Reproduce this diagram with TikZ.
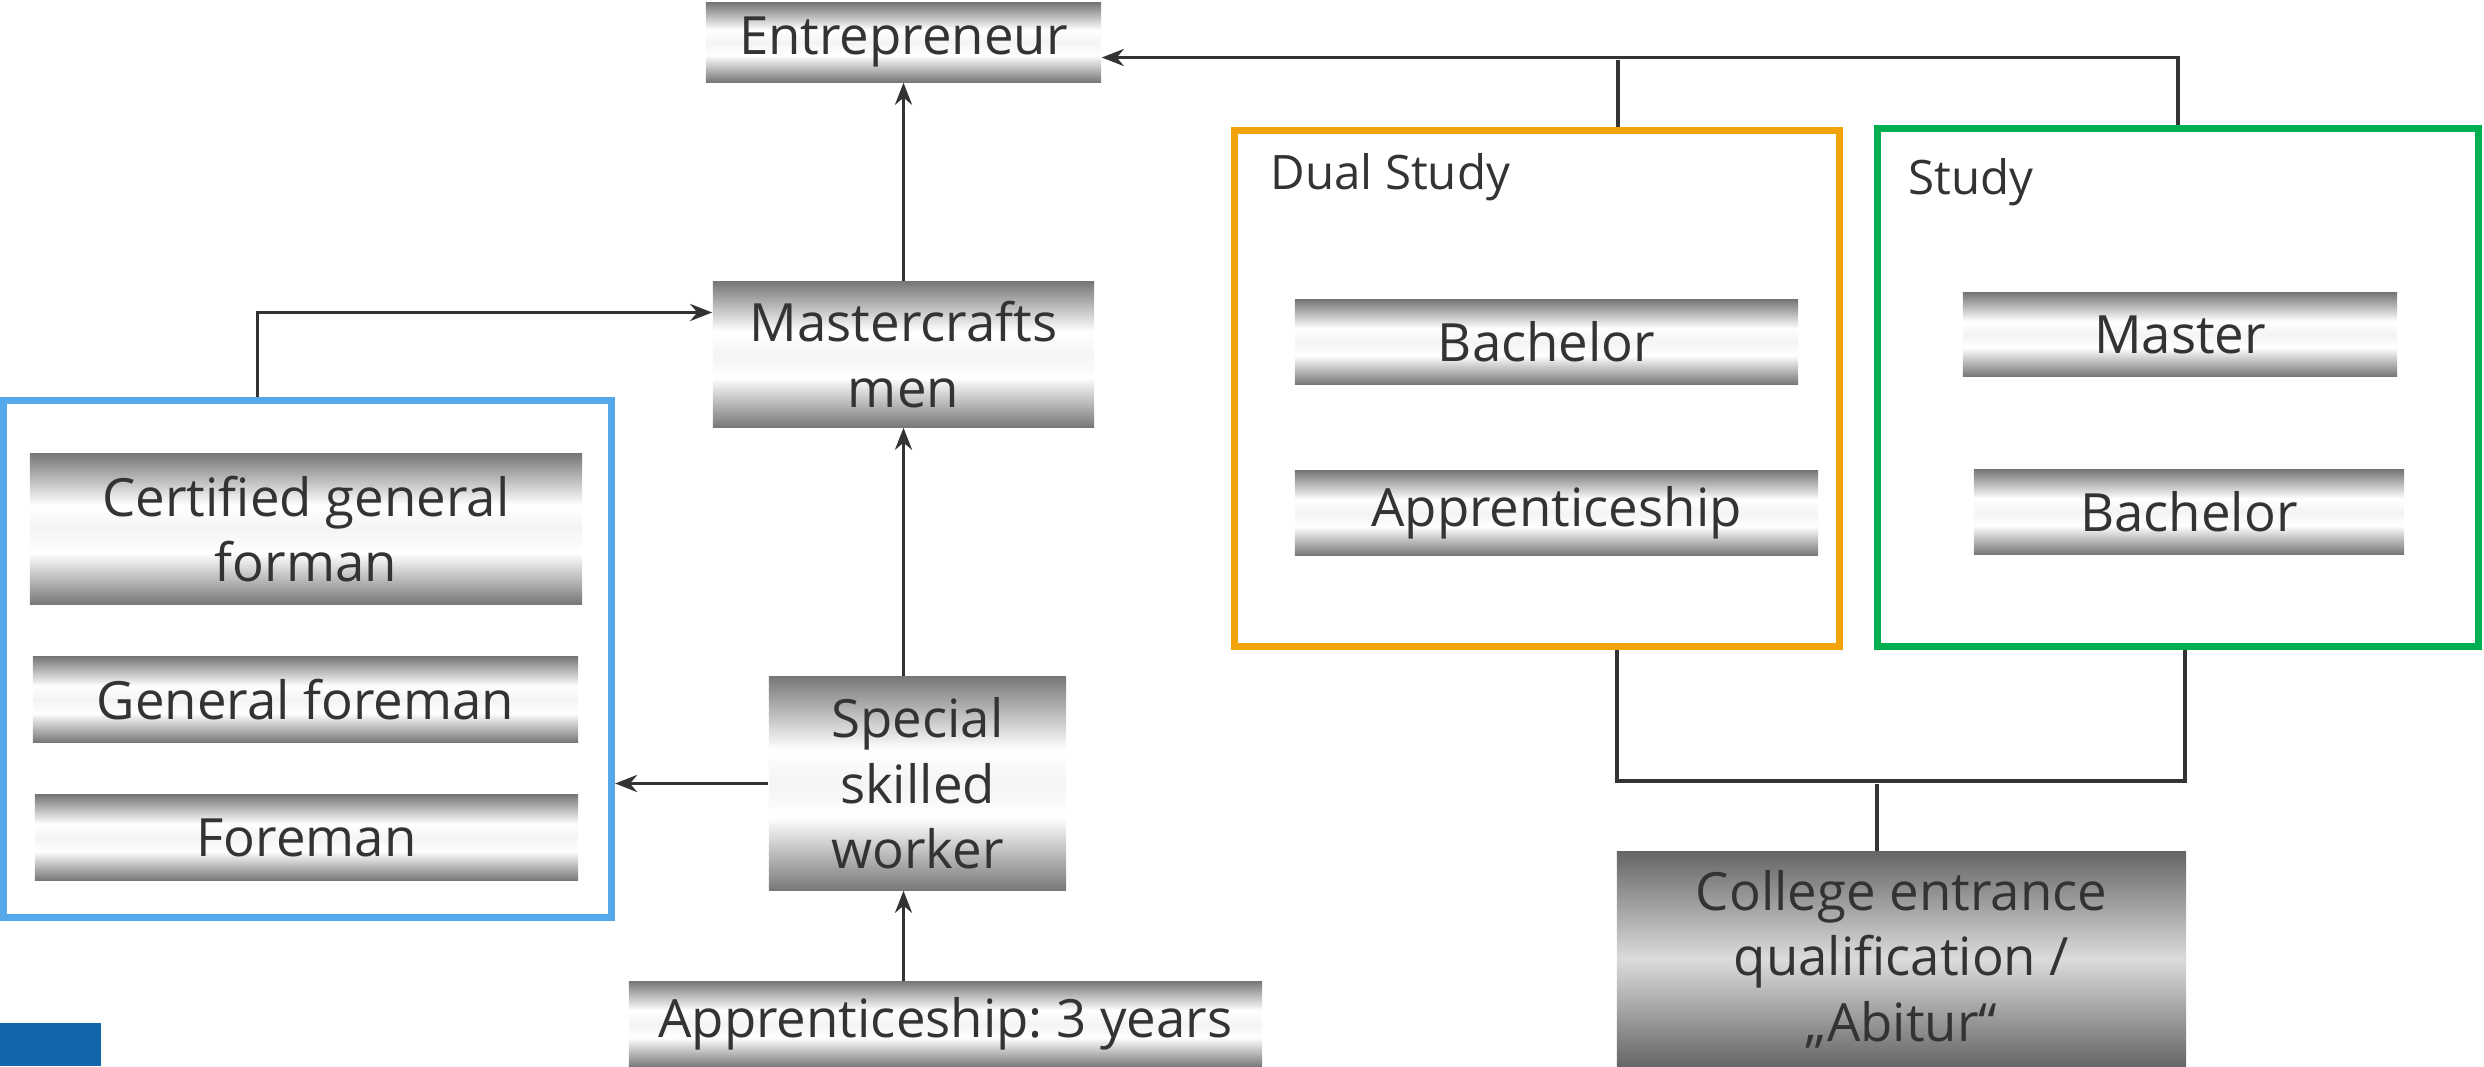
\documentclass[tikz,border=0pt]{standalone}
\usepackage{xcolor}
\usepackage{fontspec}
\setmainfont{Open Sans}
\usepackage{tikz}
\usetikzlibrary{arrows.meta,positioning}

\definecolor{inkgray}{HTML}{333333}
\definecolor{metaldark}{HTML}{787878}
\definecolor{metalmid}{HTML}{F4F4F4}
\definecolor{framblue}{HTML}{55A8EA}
\definecolor{framorange}{HTML}{F0A30A}
\definecolor{framgreen}{HTML}{00B050}
\definecolor{cornerblue}{HTML}{1565AD}

\pgfdeclareverticalshading{metal}{100bp}{color(0bp)=(metaldark); color(25bp)=(metaldark); color(42bp)=(white); color(50bp)=(metalmid); color(58bp)=(white); color(75bp)=(metaldark); color(100bp)=(metaldark)}

\frenchspacing

\begin{document}
\begin{tikzpicture}[
    x=0.01cm, y=-0.01cm,
    font=\fontsize{15}{18.6}\selectfont,
    box/.style={shading=metal, inner sep=0pt, align=center, text=inkgray},
    abibox/.style={top color=black!60, bottom color=black!60, middle color=black!14, inner sep=0pt, align=center, text=inkgray},
    frame/.style={draw=#1, line width=0.068cm, inner sep=0pt},
    caption/.style={anchor=west, inner sep=0pt, text=inkgray, font=\fontsize{13.5}{16}\selectfont},
    edge/.style={-{Stealth[length=0.22cm, width=0.17cm]}, draw=inkgray, line width=0.035cm},
    link/.style={draw=inkgray, line width=0.035cm}
]
    \useasboundingbox (0,0) rectangle (2484,1066);

    % Craft career
    \node[box, minimum width=3.95cm, minimum height=0.79cm] (entre) at (903.5,42.5) {Entrepreneur};
    \node[box, minimum width=3.81cm, minimum height=1.45cm] (master) at (903.5,354.5) {Mastercrafts\\men};
    \node[box, minimum width=2.97cm, minimum height=2.13cm] (special) at (917.5,783.5) {Special\\skilled\\worker};
    \node[box, minimum width=6.33cm, minimum height=0.85cm] (appr) at (945.5,1024) {Apprenticeship: 3 years};

    % Foremen
    \node[frame=framblue, minimum width=6.08cm, minimum height=5.17cm] (formen) at (307.5,659) {};
    \node[box, minimum width=5.52cm, minimum height=1.50cm] (cert) at (306,529) {Certified general\\forman};
    \node[box, minimum width=5.45cm, minimum height=0.85cm] (genfore) at (305.5,699.5) {General foreman};
    \node[box, minimum width=5.43cm, minimum height=0.85cm] (fore) at (306.5,837.5) {Foreman};

    % Dual study
    \node[frame=framorange, minimum width=6.05cm, minimum height=5.16cm] (dual) at (1537,388.5) {};
    \node[caption] (duallbl) at (1270,177) {Dual Study};
    \node[box, minimum width=5.03cm, minimum height=0.84cm] (dbach) at (1546.5,342) {Bachelor};
    \node[box, minimum width=5.23cm, minimum height=0.84cm] (dappr) at (1556.5,513) {Apprenticeship};

    % Study
    \node[frame=framgreen, minimum width=6.01cm, minimum height=5.18cm] (study) at (2178,387.5) {};
    \node[caption] (studylbl) at (1908,182) {Study};
    \node[box, minimum width=4.34cm, minimum height=0.83cm] (smaster) at (2180,334.5) {Master};
    \node[box, minimum width=4.30cm, minimum height=0.84cm] (sbach) at (2189,512) {Bachelor};

    % Abitur
    \node[abibox, minimum width=5.69cm, minimum height=2.14cm] (abitur) at (1901.5,959) {College entrance\\qualification /\\„Abitur“};

    % Corner mark
    \fill[cornerblue] (0,1023) rectangle (101,1066);

    % Craft relationships
    \draw[edge] (appr.north -| master) -- (special.south -| master);
    \draw[edge] (special.north -| master) -- (master.south);
    \draw[edge] (master.north) -- (entre.south);
    \draw[edge] (special.west) -- (special.west -| formen.east);
    \draw[edge] ([xshift=-0.5cm]formen.north) |- ([yshift=0.42cm]master.west);

    % Study relationships
    \draw[edge] (study.north) |- ([yshift=-0.15cm]entre.east);
    \draw[link] ([xshift=0.81cm]dual.north) -- ++(0,-67);
    \coordinate (joinl) at ([xshift=0.8cm]dual.south |- 0,781);
    \coordinate (joinr) at (study.south |- 0,781);
    \draw[link] ([xshift=0.8cm]dual.south) -- (joinl) -- ([xshift=0.07cm]joinr) -- ([xshift=0.07cm]study.south);
    \draw[link] ([xshift=-0.245cm]abitur.north) -- ++(0,-67);

\end{tikzpicture}
\end{document}
